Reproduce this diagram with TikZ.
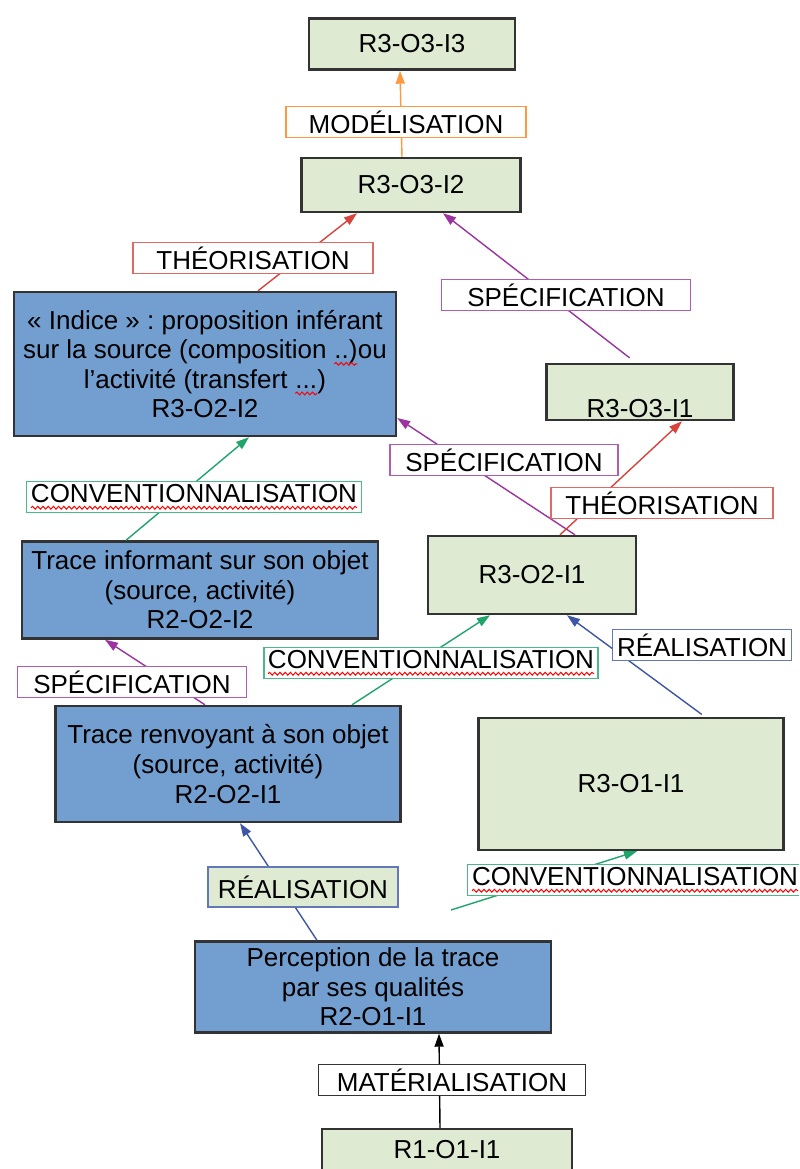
\documentclass[tikz,border=0pt]{standalone}
\usepackage{fontspec}
\setmainfont{Liberation Sans}
\usetikzlibrary{arrows.meta,decorations.pathmorphing}
\frenchspacing
\definecolor{boxgreen}{HTML}{DEEAD2}
\definecolor{boxblue}{HTML}{729FCF}
\definecolor{lineorange}{HTML}{FF9940}
\definecolor{linered}{HTML}{D9433C}
\definecolor{linepurple}{HTML}{9C33A0}
\definecolor{lineblue}{HTML}{3D56A6}
\definecolor{linegreen}{HTML}{1FA56A}
\newcommand\spellwave[1]{\tikz[baseline=(sw.base)]{\node[draw=none, fill=none, inner sep=0pt, outer sep=0pt, minimum width=0pt, minimum height=0pt] (sw) {#1};
  \draw[red, line width=0.5pt, decorate, decoration={snake, amplitude=0.7pt, segment length=2.6pt}] ([yshift=-2.6pt]sw.base west) -- ([yshift=-2.6pt]sw.base east);}}
\begin{document}
\begin{tikzpicture}[x=0.5pt, y=-0.5pt,
  greenbox/.style={draw=black!80, line width=1.2pt, fill=boxgreen, inner sep=0pt, align=center},
  bluebox/.style={draw=black!80, line width=1.2pt, fill=boxblue, inner sep=0pt, align=center},
  lbl/.style={line width=0.8pt, fill=white, inner sep=0pt, minimum height=15.5pt},
  conn/.style={line width=0.7pt, -{Triangle[length=6.5pt,width=4.5pt]}},
  font=\fontsize{13}{14.8}\selectfont]
\useasboundingbox (0,0) rectangle (799,1169);
\clip (0,0) rectangle (799,1169);
\node[greenbox, minimum width=103pt, minimum height=25.5pt] (r3o3i3) at (412,44) {R3-O3-I3};
\node[greenbox, minimum width=109.5pt, minimum height=27pt] (r3o3i2) at (411,185) {R3-O3-I2};
\node[bluebox, minimum width=191pt, minimum height=72pt] (r3o2i2) at (205,364) {« Indice » : proposition inférant\\sur la source (composition \spellwave{..)}ou\\l’activité (transfert \spellwave{...})\\R3-O2-I2};
\node[greenbox, minimum width=93.5pt, minimum height=28pt] (r3o3i1) at (640,392) {\strut\\R3-O3-I1};
\node[bluebox, minimum width=178pt, minimum height=48.5pt] (r2o2i2) at (200,590) {Trace informant sur son objet\\(source, activité)\\R2-O2-I2};
\node[greenbox, minimum width=104pt, minimum height=39pt] (r3o2i1) at (532,575) {R3-O2-I1};
\node[bluebox, minimum width=172.5pt, minimum height=58pt] (r2o2i1) at (228,764) {Trace renvoyant à son objet\\(source, activité)\\R2-O2-I1};
\node[greenbox, minimum width=152.5pt, minimum height=66pt] (r3o1i1) at (631,784) {R3-O1-I1};
\node[bluebox, minimum width=178pt, minimum height=45.5pt] (r2o1i1) at (373,987) {Perception de la trace\\par ses qualités\\R2-O1-I1};
\node[greenbox, minimum width=125pt, minimum height=21pt] (r1o1i1) at (447,1150) {R1-O1-I1};
\coordinate (convfoot) at (451,910);
\draw[conn, lineorange] ([xshift=-4.5pt]r3o3i2.north) -- ([xshift=-6pt]r3o3i3.south);
\draw[conn, linered] ([xshift=26.5pt]r3o2i2.north) -- ([xshift=-27pt]r3o3i2.south);
\draw[conn, linepurple, shorten <=4pt] ([xshift=-2pt]r3o3i1.north) -- ([xshift=16pt]r3o3i2.south);
\draw[conn, linepurple] ([xshift=21.5pt]r3o2i1.north) -- ([yshift=-27pt]r3o2i2.east);
\draw[conn, linered] ([xshift=14pt]r3o2i1.north) -- ([xshift=21pt]r3o3i1.south);
\draw[conn, linegreen] ([xshift=-37pt]r2o2i2.north) -- ([xshift=22pt]r3o2i2.south);
\draw[conn, linepurple] ([xshift=-11.5pt]r2o2i1.north) -- ([xshift=-47.5pt]r2o2i2.south);
\draw[conn, linegreen] ([xshift=62pt]r2o2i1.north) -- ([xshift=-21pt]r3o2i1.south);
\draw[conn, lineblue, shorten <=2pt] ([xshift=37pt]r3o1i1.north) -- ([xshift=17.5pt]r3o2i1.south);
\draw[conn, lineblue] ([xshift=-28pt]r2o1i1.north) -- ([xshift=6pt]r2o2i1.south);
\draw[conn, linegreen] (convfoot) -- ([xshift=3pt]r3o1i1.south);
\draw[conn, black] ([xshift=-3.5pt]r1o1i1.north) -- ([xshift=33pt]r2o1i1.south);
\node[lbl, draw=lineorange, minimum width=120pt] (modelis) at (406,122) {MODÉLISATION};
\node[lbl, draw=linered!80, minimum width=120pt] (theoA) at (253,258) {THÉORISATION};
\node[lbl, draw=linepurple!80, minimum width=124.5pt] (specA) at (566,295) {SPÉCIFICATION};
\node[lbl, draw=linepurple!80, minimum width=114pt] (specB) at (504,460) {SPÉCIFICATION};
\node[lbl, draw=linegreen!80, minimum width=167.5pt] (convA) at (194,497) {\spellwave{CONVENTIONNALISATION}};
\node[lbl, draw=linered!80, minimum width=111pt] (theoB) at (662,503) {THÉORISATION};
\node[lbl, draw=linepurple!80, minimum width=114.5pt] (specC) at (132,682) {SPÉCIFICATION};
\node[lbl, draw=linegreen!80, minimum width=167pt] (convB) at (431,663) {\spellwave{CONVENTIONNALISATION}};
\node[lbl, draw=lineblue!80, minimum width=89.5pt] (realA) at (702,645) {RÉALISATION};
\node[lbl, draw=lineblue!80, fill=boxgreen, minimum width=95pt, minimum height=20pt] (realB) at (303,887) {RÉALISATION};
\node[lbl, draw=linegreen!80, minimum width=167.5pt] (convC) at (635,880) {\spellwave{CONVENTIONNALISATION}};
\node[lbl, draw=black!80, minimum width=133.5pt] (materia) at (452,1080) {MATÉRIALISATION};
\end{tikzpicture}
\end{document}
